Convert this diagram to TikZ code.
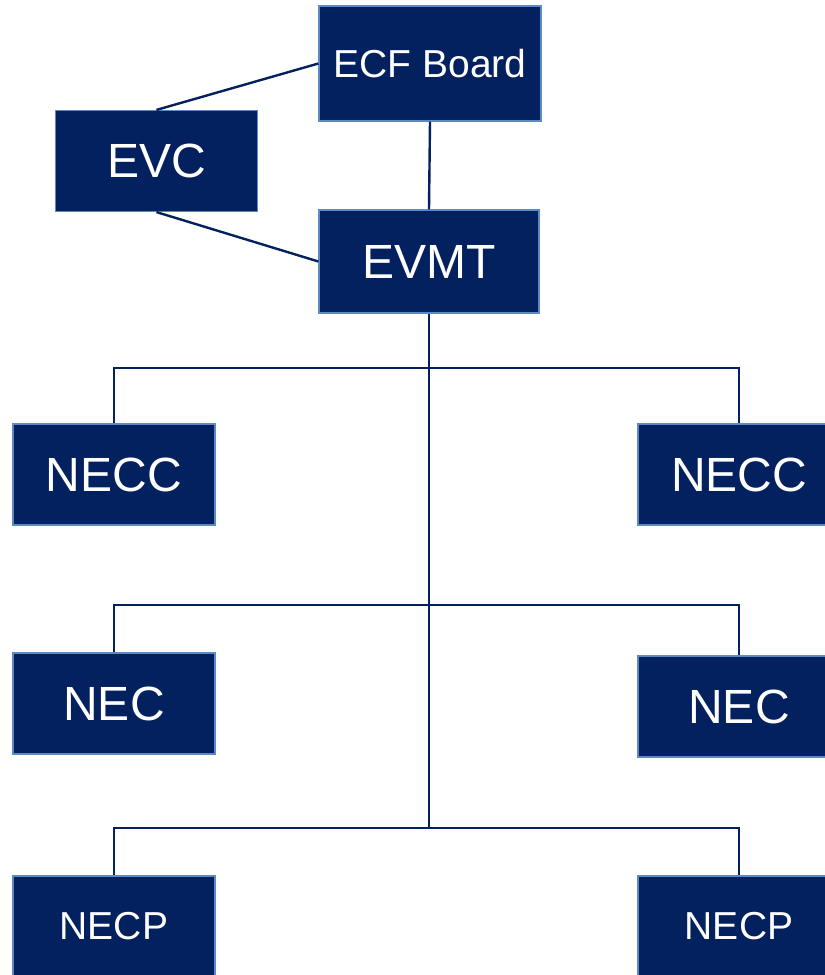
\documentclass[tikz,border=0pt]{standalone}
\usepackage{fontspec}
\setmainfont{Liberation Sans}
\usepackage{xcolor}
\definecolor{navy}{HTML}{03215F}
\definecolor{rim}{HTML}{5B8AC6}

\begin{document}
\begin{tikzpicture}[x=0.5pt, y=-0.5pt, box/.style={draw=rim, line width=0.6pt, fill=navy, text=white, inner sep=0pt, minimum width=101pt, minimum height=50.5pt, font=\fontsize{24}{26}\selectfont}, link/.style={draw=navy, line width=1.2pt}]
	\useasboundingbox (0,0) rectangle (825,975);
	\clip (0,0) rectangle (825,975);
	% top of the chart
	\node[box, minimum width=111pt, minimum height=57.5pt, font=\fontsize{19.5}{21}\selectfont] (board) at (430,63.5) {ECF Board};
	\node[box] (evc) at (156.5,161) {EVC};
	\node[box, minimum width=110pt, minimum height=51.5pt] (evmt) at (429,261.5) {EVMT};
	% the three rows
	\node[box] (neccl) at (114,474.5) {NECC};
	\node[box] (neccr) at (739,474.5) {NECC};
	\node[box] (necl) at (114,703.5) {NEC};
	\node[box] (necr) at (739,706.5) {NEC};
	\node[box, font=\fontsize{19.5}{21}\selectfont] (necpl) at (114,926.5) {NECP};
	\node[box, font=\fontsize{19.5}{21}\selectfont] (necpr) at (739,926.5) {NECP};
	\coordinate (barA) at (429,368);
	\coordinate (barB) at (429,605);
	\coordinate (barC) at (429,828);
	% connectors
	\draw[link] (evc.north) -- (board.west);
	\draw[link] (evc.south) -- (evmt.west);
	\draw[link] (board.south) -- (evmt.north);
	\draw[link] (evmt.south) -- (barC);
	\draw[link] (barA) -| (neccl.north);
	\draw[link] (barA) -| (neccr.north);
	\draw[link] (barB) -| (necl.north);
	\draw[link] (barB) -| (necr.north);
	\draw[link] (barC) -| (necpl.north);
	\draw[link] (barC) -| (necpr.north);
\end{tikzpicture}
\end{document}
